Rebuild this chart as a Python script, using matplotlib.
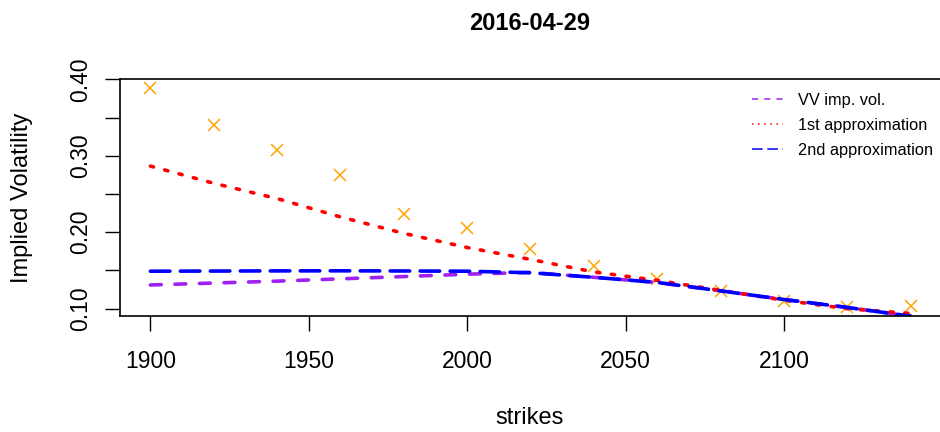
import numpy as np
import matplotlib
matplotlib.use("Agg")
import matplotlib.pyplot as plt
from matplotlib.lines import Line2D

plt.rcParams['font.family'] = ['Liberation Sans', 'DejaVu Sans']

# strikes and implied vols
strikes = [1900, 1920, 1940, 1960, 1980, 2000, 2020, 2040, 2060, 2080, 2100, 2120, 2140]
market_vol = [0.389, 0.340, 0.308, 0.275, 0.224, 0.206, 0.178, 0.156, 0.139, 0.123, 0.110, 0.102, 0.103]
vv_vol = [0.131, 0.1335, 0.136, 0.139, 0.142, 0.1451, 0.1474, 0.141, 0.1343, 0.1233, 0.112, 0.1016, 0.0902]
approx1 = [0.2865, 0.264, 0.244, 0.220, 0.1985, 0.180, 0.1644, 0.148, 0.137, 0.124, 0.111, 0.100, 0.0937]
approx2 = [0.149, 0.1492, 0.1494, 0.1495, 0.1493, 0.149, 0.147, 0.141, 0.1343, 0.1233, 0.112, 0.1016, 0.0902]

W, H = 940, 432
fig = plt.figure(figsize=(W/100, H/100), dpi=100)
ax = fig.add_axes([120/W, (H-316)/H, 821/W, 237/H])

ax.plot(strikes, market_vol, 'x', color='orange', markersize=9, markeredgewidth=1.1)
lw = 2.6
ax.plot(strikes, vv_vol, color='#a020f0', lw=lw, dashes=(3.0, 3.8), dash_capstyle='round')
ax.plot(strikes, approx1, color='red', lw=lw, dashes=(0.9, 3.2), dash_capstyle='round')
ax.plot(strikes, approx2, color='blue', lw=lw, dashes=(5.4, 2.9), dash_capstyle='round')

ax.set_xlim(1890.4, 2149.6)
ax.set_ylim(0.0904, 0.4004)
ax.set_xticks([1900, 1950, 2000, 2050, 2100])
ax.set_yticks([0.10, 0.15, 0.20, 0.25, 0.30, 0.35, 0.40])
ax.set_yticklabels(['0.10', '', '0.20', '', '0.30', '', '0.40'], rotation=90, va='center')
ax.tick_params(labelsize=16.5, length=10.5, width=1)
ax.tick_params(axis='x', pad=14)
ax.tick_params(axis='y', pad=9.6)
for s in ax.spines.values():
    s.set_linewidth(1.2)

fig.text(530/W, 1 - 29.5/H, '2016-04-29', fontsize=17, fontweight='bold',
         ha='center', va='baseline')
fig.text(530/W, 1 - 424.3/H, 'strikes', fontsize=17, ha='center', va='baseline')
fig.text(27.7/W, 1 - 197.5/H, 'Implied Volatility', fontsize=17, rotation=90,
         rotation_mode='anchor', ha='center', va='baseline')

handles = [Line2D([], [], color='#a020f0', lw=1.1, dashes=(4, 4)),
           Line2D([], [], color='red', lw=1.1, dashes=(1, 3)),
           Line2D([], [], color='blue', lw=1.1, dashes=(7, 3))]
leg = ax.legend(handles, ['VV imp. vol.', '1st approximation', '2nd approximation'],
                loc='upper left', frameon=False, fontsize=11.8, handlelength=1.9,
                handletextpad=0.9, labelspacing=0.6, borderpad=0, borderaxespad=0,
                bbox_to_anchor=(752/W, 1 - 93/H), bbox_transform=fig.transFigure)

fig.savefig('out.png', dpi=100)
